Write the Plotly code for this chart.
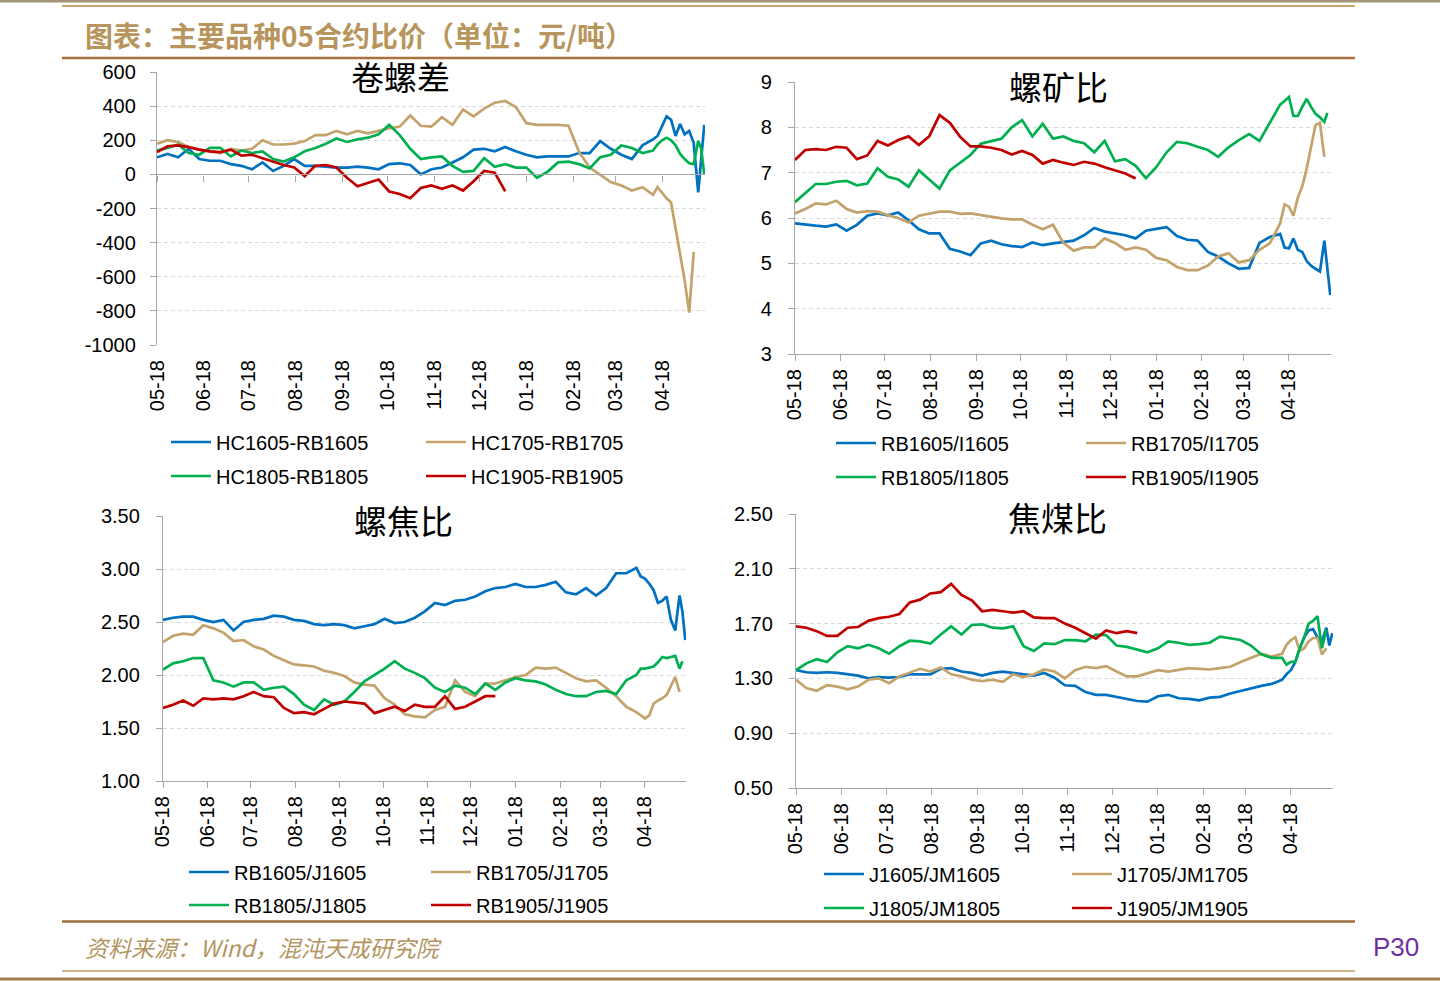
import datetime as dt
import plotly.graph_objects as go

# ---------------- data ----------------
START = dt.date(2017, 5, 18)
DAYS = list(range(0, 330, 7)) + [332, 335, 338, 341, 344, 347, 350, 353, 356, 359, 361, 363]
DATES = [(START + dt.timedelta(days=d)).isoformat() for d in DAYS]
X_END = "2018-05-16 12:00"

# 卷螺差
HC_RB_1605 = [100, 120, 100, 150, 90, 80, 80, 60, 50, 30, 70, 20, 50, 90, 50, 50, 45, 40, 40, 45, 40, 30, 60, 65,
              55, 0, 30, 40, 70, 100, 145, 150, 135, 160, 135, 115, 100, 105, 105, 105, 125, 125, 195, 150, 115, 90,
              170, 205, 225, 285, 340, 320, 225, 295, 235, 255, 185, -105, 90, 290]
HC_RB_1705 = [180, 200, 190, 160, 145, 135, 125, 150, 140, 150, 200, 175, 175, 180, 195, 230, 230, 255, 235, 255,
              240, 255, 270, 280, 345, 285, 280, 335, 290, 380, 340, 385, 420, 430, 395, 300, 290, 290, 290, 285,
              130, 40, -5, -45, -65, -95, -75, -120, -75, -110, -140, -165, -310, -470, -620, -810, -455]
HC_RB_1805 = [140, 155, 175, 125, 115, 155, 155, 105, 140, 125, 135, 90, 75, 100, 135, 155, 180, 210, 190, 205,
              215, 235, 290, 230, 150, 90, 100, 105, 50, 15, 20, 95, 45, 60, 40, 40, -20, 15, 70, 75, 60, 35, 100,
              115, 170, 155, 125, 140, 175, 200, 215, 200, 170, 120, 90, 65, 60, 195, 150, 0]
HC_RB_1905 = [130, 165, 170, 160, 145, 135, 130, 145, 110, 115, 95, 75, 55, 40, -10, 50, 55, 40, -20, -70, -50,
              -30, -100, -115, -140, -80, -65, -85, -65, -95, -40, 20, 10, -100]

# 螺矿比
RB_I_1605 = [5.88, 5.85, 5.83, 5.81, 5.86, 5.72, 5.85, 6.05, 6.10, 6.06, 6.12, 5.95, 5.75, 5.66, 5.66, 5.32, 5.26,
             5.18, 5.44, 5.50, 5.42, 5.38, 5.36, 5.46, 5.40, 5.44, 5.47, 5.50, 5.62, 5.78, 5.70, 5.66, 5.62, 5.55,
             5.72, 5.76, 5.80, 5.60, 5.52, 5.50, 5.25, 5.15, 5.00, 4.88, 4.90, 5.45, 5.58, 5.65, 5.35, 5.33, 5.55,
             5.30, 5.25, 5.05, 4.95, 4.88, 4.82, 5.50, 4.90, 4.30]
RB_I_1705 = [6.10, 6.20, 6.32, 6.30, 6.38, 6.20, 6.12, 6.15, 6.14, 6.06, 6.00, 5.90, 6.05, 6.10, 6.14, 6.14, 6.09,
             6.10, 6.06, 6.03, 5.99, 5.97, 5.97, 5.85, 5.75, 5.85, 5.45, 5.28, 5.35, 5.35, 5.55, 5.45, 5.30, 5.35,
             5.30, 5.12, 5.07, 4.92, 4.85, 4.85, 4.95, 5.15, 5.22, 5.02, 5.07, 5.30, 5.44, 5.88, 6.30, 6.25, 6.05,
             6.45, 6.70, 7.09, 7.60, 8.05, 8.10, 7.35]
RB_I_1805 = [6.35, 6.55, 6.75, 6.75, 6.80, 6.82, 6.72, 6.76, 7.10, 6.91, 6.85, 6.69, 7.05, 6.85, 6.65, 7.05, 7.22,
             7.39, 7.64, 7.70, 7.75, 8.00, 8.16, 7.80, 8.08, 7.75, 7.80, 7.70, 7.65, 7.45, 7.70, 7.25, 7.30, 7.15,
             6.88, 7.12, 7.45, 7.68, 7.65, 7.57, 7.50, 7.35, 7.56, 7.72, 7.85, 7.70, 8.10, 8.50, 8.58, 8.67, 8.25,
             8.25, 8.45, 8.63, 8.45, 8.30, 8.22, 8.12, 8.32]
RB_I_1905 = [7.28, 7.50, 7.52, 7.50, 7.57, 7.55, 7.30, 7.38, 7.70, 7.60, 7.72, 7.80, 7.61, 7.80, 8.27, 8.10, 7.79,
             7.58, 7.58, 7.55, 7.50, 7.40, 7.48, 7.39, 7.20, 7.28, 7.22, 7.17, 7.24, 7.20, 7.12, 7.05, 6.98, 6.87]

# 螺焦比
RB_J_1605 = [2.52, 2.54, 2.55, 2.55, 2.52, 2.50, 2.52, 2.42, 2.50, 2.52, 2.53, 2.56, 2.55, 2.52, 2.51, 2.48, 2.47,
             2.48, 2.47, 2.44, 2.46, 2.48, 2.53, 2.49, 2.50, 2.54, 2.60, 2.68, 2.66, 2.70, 2.71, 2.74, 2.79, 2.82,
             2.83, 2.86, 2.83, 2.83, 2.85, 2.88, 2.78, 2.76, 2.82, 2.75, 2.82, 2.96, 2.96, 3.01, 2.93, 2.91, 2.86,
             2.80, 2.68, 2.70, 2.74, 2.52, 2.42, 2.75, 2.60, 2.33]
RB_J_1705 = [2.31, 2.37, 2.39, 2.38, 2.47, 2.44, 2.40, 2.32, 2.33, 2.27, 2.24, 2.18, 2.14, 2.10, 2.09, 2.08, 2.04,
             2.02, 1.99, 1.93, 1.91, 1.90, 1.78, 1.72, 1.63, 1.61, 1.60, 1.67, 1.70, 1.95, 1.84, 1.80, 1.92, 1.92,
             1.95, 1.98, 2.00, 2.07, 2.06, 2.07, 2.02, 1.97, 1.94, 1.95, 1.88, 1.80, 1.70, 1.65, 1.62, 1.59, 1.62,
             1.73, 1.76, 1.78, 1.81, 1.90, 1.98, 1.84]
RB_J_1805 = [2.05, 2.11, 2.13, 2.16, 2.16, 1.95, 1.93, 1.89, 1.93, 1.93, 1.86, 1.88, 1.89, 1.82, 1.72, 1.67, 1.77,
             1.72, 1.75, 1.84, 1.94, 2.00, 2.06, 2.13, 2.06, 2.02, 1.97, 1.88, 1.84, 1.90, 1.88, 1.82, 1.92, 1.86,
             1.93, 1.97, 1.95, 1.94, 1.91, 1.86, 1.82, 1.80, 1.80, 1.84, 1.85, 1.82, 1.95, 2.00, 2.06, 2.06, 2.07,
             2.08, 2.12, 2.17, 2.16, 2.17, 2.18, 2.06, 2.13]
RB_J_1905 = [1.69, 1.72, 1.76, 1.71, 1.78, 1.77, 1.78, 1.77, 1.80, 1.84, 1.80, 1.79, 1.69, 1.64, 1.65, 1.63, 1.68,
             1.73, 1.75, 1.74, 1.73, 1.64, 1.67, 1.70, 1.66, 1.72, 1.70, 1.70, 1.80, 1.68, 1.70, 1.75, 1.80, 1.80]

# 焦煤比
J_JM_1605 = [1.36, 1.345, 1.34, 1.345, 1.34, 1.33, 1.32, 1.30, 1.31, 1.305, 1.31, 1.33, 1.33, 1.33, 1.37, 1.375,
             1.35, 1.34, 1.32, 1.34, 1.35, 1.34, 1.33, 1.32, 1.34, 1.305, 1.25, 1.245, 1.20, 1.18, 1.18, 1.165,
             1.15, 1.135, 1.13, 1.17, 1.18, 1.155, 1.15, 1.14, 1.16, 1.165, 1.19, 1.21, 1.225, 1.245, 1.26, 1.29,
             1.33, 1.36, 1.42, 1.52, 1.60, 1.65, 1.66, 1.60, 1.57, 1.67, 1.54, 1.63]
J_JM_1705 = [1.29, 1.23, 1.21, 1.25, 1.24, 1.22, 1.24, 1.29, 1.30, 1.265, 1.315, 1.345, 1.37, 1.35, 1.38, 1.33,
             1.315, 1.29, 1.28, 1.29, 1.275, 1.33, 1.31, 1.33, 1.365, 1.35, 1.30, 1.36, 1.385, 1.375, 1.39, 1.35,
             1.315, 1.315, 1.34, 1.36, 1.35, 1.36, 1.375, 1.37, 1.365, 1.375, 1.385, 1.42, 1.45, 1.48, 1.46, 1.48,
             1.545, 1.58, 1.60, 1.50, 1.52, 1.57, 1.595, 1.595, 1.475, 1.52]
J_JM_1805 = [1.36, 1.41, 1.44, 1.42, 1.49, 1.535, 1.52, 1.545, 1.52, 1.48, 1.535, 1.575, 1.57, 1.555, 1.62, 1.68,
             1.62, 1.69, 1.695, 1.67, 1.665, 1.68, 1.535, 1.50, 1.555, 1.55, 1.58, 1.58, 1.57, 1.62, 1.615, 1.54,
             1.53, 1.51, 1.49, 1.52, 1.57, 1.56, 1.545, 1.55, 1.56, 1.605, 1.595, 1.58, 1.54, 1.475, 1.45, 1.45,
             1.40, 1.42, 1.42, 1.52, 1.60, 1.70, 1.72, 1.755, 1.52, 1.655]
J_JM_1905 = [1.68, 1.67, 1.645, 1.61, 1.61, 1.67, 1.675, 1.72, 1.74, 1.75, 1.77, 1.855, 1.875, 1.92, 1.93, 1.99,
             1.91, 1.87, 1.79, 1.80, 1.79, 1.78, 1.79, 1.745, 1.74, 1.74, 1.70, 1.67, 1.63, 1.59, 1.65, 1.63, 1.645,
             1.63]

PANEL_TITLES = ["卷螺差", "螺矿比", "螺焦比", "焦煤比"]
SERIES_NAMES = [
    ["HC1605-RB1605", "HC1705-RB1705", "HC1805-RB1805", "HC1905-RB1905"],
    ["RB1605/I1605", "RB1705/I1705", "RB1805/I1805", "RB1905/I1905"],
    ["RB1605/J1605", "RB1705/J1705", "RB1805/J1805", "RB1905/J1905"],
    ["J1605/JM1605", "J1705/JM1705", "J1805/JM1805", "J1905/JM1905"],
]
SERIES_VALUES = [
    [HC_RB_1605, HC_RB_1705, HC_RB_1805, HC_RB_1905],
    [RB_I_1605, RB_I_1705, RB_I_1805, RB_I_1905],
    [RB_J_1605, RB_J_1705, RB_J_1805, RB_J_1905],
    [J_JM_1605, J_JM_1705, J_JM_1805, J_JM_1905],
]
Y_TICKS = [
    [-1000, -800, -600, -400, -200, 0, 200, 400, 600],
    [3, 4, 5, 6, 7, 8, 9],
    [1.00, 1.50, 2.00, 2.50, 3.00, 3.50],
    [0.50, 0.90, 1.30, 1.70, 2.10, 2.50],
]
Y_TICK_TEXT = [
    ["-1000", "-800", "-600", "-400", "-200", "0", "200", "400", "600"],
    ["3", "4", "5", "6", "7", "8", "9"],
    ["1.00", "1.50", "2.00", "2.50", "3.00", "3.50"],
    ["0.50", "0.90", "1.30", "1.70", "2.10", "2.50"],
]

# ---------------- styling / layout ----------------
W, H = 1440, 981
COLORS = ["#0070C0", "#C4A26C", "#00B050", "#C00000"]
LAT = "Liberation Sans, Arial, sans-serif"
CJK = "Noto Sans CJK SC, Noto Sans CJK JP, sans-serif"
AXIS_GRAY = "#A6A6A6"

# plot-area boxes in px: left, right, top, bottom
BOXES = [(157, 705, 72, 345), (795, 1331, 82, 354), (163, 686, 516, 781), (796, 1333, 514, 788)]
TITLE_POS = [(400, 76), (1058, 86), (403, 520), (1057, 517)]
# legend item positions (line start x, row y) per panel: blue, tan, green, red
LEG_POS = [
    [(172, 442), (427, 442), (172, 476), (427, 476)],
    [(837, 443), (1087, 443), (837, 477), (1087, 477)],
    [(190, 872), (432, 872), (190, 905), (432, 905)],
    [(825, 874), (1073, 874), (825, 908), (1073, 908)],
]


def fx(p):
    return p / W


def fy(p):
    return 1 - p / H


fig = go.Figure()
layout = {}
leg_idx = 0
for i in range(4):
    ax = "" if i == 0 else str(i + 1)
    for j in range(4):
        vals = SERIES_VALUES[i][j]
        leg_idx += 1
        lname = "legend" if leg_idx == 1 else f"legend{leg_idx}"
        fig.add_trace(go.Scatter(
            x=DATES[:len(vals)], y=vals, mode="lines", name=SERIES_NAMES[i][j],
            line=dict(color=COLORS[j], width=2.7), xaxis="x" + ax, yaxis="y" + ax,
            legend=lname, hoverinfo="skip"))
        lx, ly = LEG_POS[i][j]
        layout[lname] = dict(x=fx(lx - 6), y=fy(ly), xanchor="left", yanchor="middle",
                             orientation="h", bgcolor="rgba(0,0,0,0)", borderwidth=0,
                             font=dict(family=LAT, size=20, color="#000000"),
                             itemwidth=40, tracegroupgap=0)
    l, r, t, b = BOXES[i]
    first = i == 0
    layout["xaxis" + ax] = dict(
        domain=[fx(l), fx(r)], anchor="y" + ax, type="date", range=[DATES[0], X_END],
        tick0=DATES[0], dtick="M1", tickformat="%m-%d", tickangle=-90,
        tickfont=dict(family=LAT, size=20, color="#000000"),
        showline=not first, linecolor=AXIS_GRAY, linewidth=1.3,
        ticks="" if first else "outside", ticklen=6, tickcolor=AXIS_GRAY,
        ticklabelstandoff=10 if first else 0, showgrid=False, zeroline=False, fixedrange=True)
    layout["yaxis" + ax] = dict(
        domain=[fy(b), fy(t)], anchor="x" + ax, range=[Y_TICKS[i][0], Y_TICKS[i][-1]],
        tickmode="array", tickvals=Y_TICKS[i], ticktext=Y_TICK_TEXT[i],
        tickfont=dict(family=LAT, size=20, color="#000000"),
        showline=True, linecolor=AXIS_GRAY, linewidth=1.3, ticks="outside", ticklen=6,
        tickcolor=AXIS_GRAY, ticklabelstandoff=12 if not first else 10, showgrid=True,
        gridcolor="#D9D9D9", gridwidth=1, griddash="4px,3px", zeroline=False, fixedrange=True)

# zero-line axis for 卷螺差 (category axis crossing at 0)
l, r, t, b = BOXES[0]
y0, y1 = Y_TICKS[0][0], Y_TICKS[0][-1]
zero_pos = fy(b) + (0 - y0) / (y1 - y0) * (fy(t) - fy(b))
layout["xaxis5"] = dict(overlaying="x", anchor="free", position=zero_pos, type="date",
                        range=[DATES[0], X_END], tick0=DATES[0], dtick="M1", showticklabels=False,
                        showline=True, linecolor=AXIS_GRAY, linewidth=1.3, ticks="outside", ticklen=6,
                        tickcolor=AXIS_GRAY, showgrid=False, zeroline=False, fixedrange=True)
fig.add_trace(go.Scatter(x=[DATES[0]], y=[0], xaxis="x5", yaxis="y", mode="markers",
                         marker=dict(opacity=0), showlegend=False, hoverinfo="skip"))

annotations = []
for (tx, ty), txt in zip(TITLE_POS, PANEL_TITLES):
    annotations.append(dict(x=fx(tx), y=fy(ty), xref="paper", yref="paper", text=txt, showarrow=False,
                            xanchor="center", yanchor="middle",
                            font=dict(family=CJK, size=33, color="#000000")))
annotations.append(dict(x=fx(83), y=fy(35), xref="paper", yref="paper",
                        text="<b>图表：主要品种05合约比价（单位：元/吨）</b>", showarrow=False,
                        xanchor="left", yanchor="middle", font=dict(family=CJK, size=28, color="#B8955C")))
annotations.append(dict(x=fx(83), y=fy(947), xref="paper", yref="paper",
                        text="<i>资料来源：Wind，混沌天成研究院</i>", showarrow=False,
                        xanchor="left", yanchor="middle", font=dict(family=CJK, size=23, color="#B4955F")))
annotations.append(dict(x=fx(1421), y=fy(947), xref="paper", yref="paper", text="P30", showarrow=False,
                        xanchor="right", yanchor="middle", font=dict(family=LAT, size=26, color="#7030A0")))

shapes = [
    dict(type="line", xref="paper", yref="paper", x0=0, x1=1, y0=fy(1), y1=fy(1),
         line=dict(color="#A39679", width=3)),
    dict(type="line", xref="paper", yref="paper", x0=fx(62), x1=fx(1355), y0=fy(6), y1=fy(6),
         line=dict(color="#C9A66E", width=2)),
    dict(type="line", xref="paper", yref="paper", x0=fx(62), x1=fx(1355), y0=fy(58), y1=fy(58),
         line=dict(color="#A8713E", width=2.5)),
    dict(type="line", xref="paper", yref="paper", x0=fx(62), x1=fx(1355), y0=fy(921.5), y1=fy(921.5),
         line=dict(color="#9E6C3E", width=2.5)),
    dict(type="line", xref="paper", yref="paper", x0=fx(62), x1=fx(1355), y0=fy(971), y1=fy(971),
         line=dict(color="#CDB48C", width=2)),
    dict(type="line", xref="paper", yref="paper", x0=0, x1=1, y0=fy(979), y1=fy(979),
         line=dict(color="#9F7C52", width=3)),
]

fig.update_layout(
    width=W, height=H, margin=dict(l=0, r=0, t=0, b=0), template="none",
    paper_bgcolor="white", plot_bgcolor="white", showlegend=True, hovermode=False,
    annotations=annotations, shapes=shapes, **layout)

fig.write_html("out.html", config={"displayModeBar": False},
               post_script="document.body.style.margin='0px';")
